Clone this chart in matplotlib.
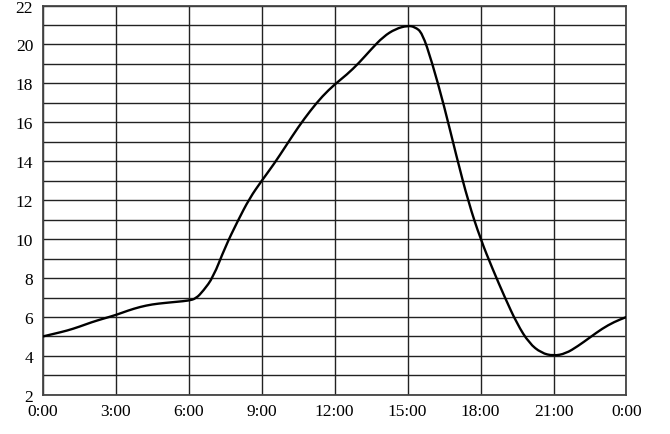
import matplotlib.pyplot as plt
from matplotlib.ticker import MultipleLocator
from matplotlib.path import Path
from matplotlib.patches import PathPatch

# values (hour of day, value)
hours = [0, 0.5, 1, 1.5, 2, 2.5, 3, 3.5, 4, 4.5, 5, 5.5, 6, 6.3, 6.6, 7, 7.5, 8, 8.5,
         9, 9.5, 10, 10.5, 11, 11.5, 12, 12.5, 13, 13.5, 14, 14.5, 15, 15.3, 15.6, 16,
         16.5, 17, 17.5, 18, 18.5, 19, 19.5, 20, 20.5, 21, 21.5, 22, 22.5, 23, 23.5, 24]
values = [5.0, 5.15, 5.3, 5.5, 5.73, 5.92, 6.1, 6.33, 6.52, 6.65, 6.72, 6.78, 6.84, 6.95, 7.35,
          8.03, 9.6, 10.9, 12.1, 13.0, 13.85, 14.8, 15.75, 16.6, 17.35, 17.95, 18.45, 19.05,
          19.75, 20.4, 20.8, 20.97, 20.9, 20.6, 19.1, 16.85, 14.3, 11.9, 10.0, 8.45, 7.0,
          5.65, 4.65, 4.15, 4.0, 4.12, 4.5, 4.95, 5.4, 5.75, 6.0]

x_ticks = [0, 3, 6, 9, 12, 15, 18, 21, 24]
x_labels = ['0:00', '3:00', '6:00', '9:00', '12:00', '15:00', '18:00', '21:00', '0:00']

plt.rcParams['font.family'] = ['Liberation Serif', 'DejaVu Serif']

fig = plt.figure(figsize=(6.7, 4.35), dpi=100)
ax = fig.add_axes([0.064, 0.09, 0.871, 0.895])

# smooth curve: quadratic bezier segments through midpoints of the read points
pts = list(zip(hours, values))
verts = [pts[0]]
codes = [Path.MOVETO]
for i in range(1, len(pts) - 1):
    mid = ((pts[i][0] + pts[i + 1][0]) / 2, (pts[i][1] + pts[i + 1][1]) / 2)
    verts += [pts[i], mid]
    codes += [Path.CURVE3, Path.CURVE3]
verts.append(pts[-1])
codes.append(Path.LINETO)
ax.add_patch(PathPatch(Path(verts, codes), facecolor='none', edgecolor='black',
                       lw=1.7, joinstyle='round', capstyle='round', zorder=3))

ax.set_xlim(0, 24)
ax.set_ylim(2, 22)
ax.set_xticks(x_ticks)
ax.set_xticklabels(x_labels)
ax.yaxis.set_major_locator(MultipleLocator(2))
ax.yaxis.set_minor_locator(MultipleLocator(1))

ax.grid(True, which='both', axis='y', color='#222222', lw=1.0)
ax.grid(True, which='major', axis='x', color='#222222', lw=1.0)
ax.tick_params(which='both', length=0, labelsize=12.5, colors='black')
ax.tick_params(axis='x', pad=6)
ax.tick_params(axis='y', pad=7)

for s in ax.spines.values():
    s.set_color('#444444')
    s.set_linewidth(1.3)

fig.savefig('out.png', dpi=100)
